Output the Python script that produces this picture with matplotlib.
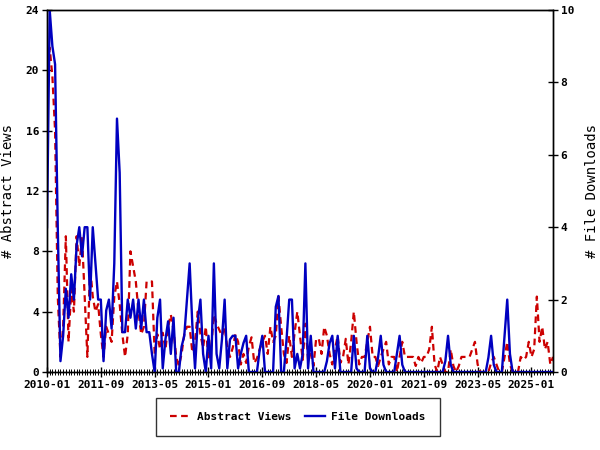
import numpy as np
import pandas as pd
import matplotlib
matplotlib.use('Agg')
import matplotlib.pyplot as plt

plt.rcParams['font.family'] = ['DejaVu Sans Mono']
plt.rcParams['font.weight'] = 'bold'

# monthly data, 2010-01 .. 2025-09
months = pd.date_range('2010-01-01', periods=189, freq='MS').strftime('%Y-%m')

abstract_views = [
    19, 21.5, 19.6, 16, 5, 1, 3, 9, 2, 5.5, 4, 9,
    7, 9, 5, 1, 7, 5, 4, 4.5, 2.5, 1, 3, 2.5,
    2, 5, 6, 4.5, 2.5, 1, 2.5, 8, 7, 6, 4, 2.5,
    3, 6, 6, 6, 1.2, 2.5, 1.5, 2.6, 1.5, 3, 3.8, 2.8,
    1, 0.4, 1.2, 2.5, 3, 3, 1.3, 2, 4, 2.5, 1.6, 3,
    0.8, 1.6, 3.8, 3.2, 2.8, 2.4, 3, 1.6, 1, 1.6, 2.5, 2,
    0.5, 1.2, 0.6, 1.7, 2.3, 0.6, 0.9, 1.5, 2, 2.4, 1.2, 3,
    2, 2.4, 5, 3, 1.2, 0.6, 2.4, 1, 2.6, 4, 2.4, 0.8,
    3.2, 0.8, 1.2, 0.4, 2.2, 2.2, 1.2, 3, 2.4, 1.2, 0.5, 1.5,
    2.4, 0.6, 1, 2.2, 0.5, 2, 4, 2, 0.5, 1, 1, 2,
    3, 1, 1, 0.4, 1, 1.5, 2, 0.5, 1, 1, 0, 1,
    2, 1, 1, 1, 1, 0.4, 1, 0.6, 1, 1, 1.5, 3,
    0.5, 0, 1, 0.5, 0, 0, 1.5, 0.4, 0, 0.4, 1, 1,
    1, 1, 1.5, 2, 0.5, 0, 0, 0, 0, 0.6, 1, 0.5,
    0, 0, 1, 2, 0.5, 0, 0, 0, 1, 0.8, 1, 2,
    1, 1.5, 5, 2, 3, 1.5, 2, 0.5, 1,
]

file_downloads = [
    4, 10, 9, 8.5, 4, 0.3, 1, 2.3, 1.5, 2.7, 2, 3.5,
    4, 3.2, 4, 4, 2, 4, 3, 2, 2, 0.3, 1.7, 2,
    1.2, 3, 7, 5.5, 1.1, 1.1, 2, 1.5, 2, 1.2, 2, 1.2,
    2, 1.1, 1.1, 0.5, 0, 1.5, 2, 0.1, 0.9, 1.4, 0.5, 1.5,
    0, 0, 0.7, 1, 2, 3, 1.3, 0.1, 1.4, 2, 0.5, 0,
    1, 0.1, 3, 0.5, 0.1, 0.9, 2, 0.1, 0.9, 1, 1, 0.1,
    0.5, 0.8, 1, 0, 0, 0, 0, 0.6, 1, 0, 0, 0,
    0, 1.8, 2.1, 0, 0, 0.9, 2, 2, 0.1, 0.5, 0.1, 0.5,
    3, 0.1, 1, 0, 0, 0, 0, 0, 0.3, 0.8, 1, 0.1,
    1, 0, 0, 0, 0, 0, 1, 0.1, 0, 0, 0, 1,
    0.1, 0, 0, 0.4, 1, 0.2, 0, 0, 0, 0, 0.5, 1,
    0.2, 0, 0, 0, 0, 0, 0, 0, 0, 0, 0, 0,
    0, 0, 0, 0, 0.3, 1, 0.2, 0, 0, 0, 0, 0,
    0, 0, 0, 0, 0, 0, 0, 0, 0.4, 1, 0.2, 0,
    0, 0, 1, 2, 0.5, 0, 0, 0, 0, 0, 0, 0,
    0, 0, 0, 0, 0, 0, 0, 0, 0,
]

x = np.arange(len(months))

fig = plt.figure(figsize=(6, 4.5), dpi=100)
ax = fig.add_axes([47/600, 1-372/450, 506/600, 362/450])
ax2 = ax.twinx()

l1, = ax.plot(x, abstract_views, color='#cc0000', lw=1.6, dashes=(3, 2), label='Abstract Views')
l2, = ax2.plot(x, file_downloads, color='#0000c0', lw=1.7, label='File Downloads')

ax.set_xlim(0, len(x) - 1)
ax.set_ylim(0, 24)
ax2.set_ylim(0, 10)
ax.set_yticks(range(0, 25, 4))
ax2.set_yticks(range(0, 11, 2))
ax.set_xticks(x[::20])
ax.set_xticklabels(months[::20])
ax.set_xticks(x, minor=True)

for a in (ax, ax2):
    a.tick_params(axis='both', which='major', direction='inout', length=7, width=1,
                  labelsize=8, colors='black', pad=2)
    a.tick_params(axis='both', which='minor', direction='inout', length=4, width=0.7)
    for s in a.spines.values():
        s.set_linewidth(1)
        s.set_color('black')

ax.set_ylabel('# Abstract Views', fontsize=10, labelpad=8)
ax2.set_ylabel('# File Downloads', fontsize=10, labelpad=8, rotation=90)

leg = fig.legend(handles=[l1, l2], loc='center', bbox_to_anchor=(298/600, 1-417/450),
                 ncol=2, fontsize=8, frameon=True, fancybox=False, edgecolor='black',
                 borderpad=1.3, handlelength=1.8, handletextpad=0.6, columnspacing=1.2)
leg.get_frame().set_linewidth(1)

fig.savefig('out.png', dpi=100)
